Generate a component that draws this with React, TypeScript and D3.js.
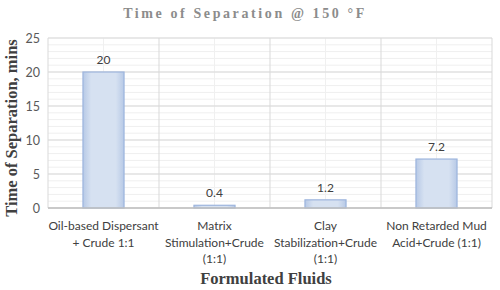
import React from "react";
import * as d3 from "d3";

const categories = [
  ["Oil-based Dispersant", "+ Crude 1:1"],
  ["Matrix", "Stimulation+Crude", "(1:1)"],
  ["Clay", "Stabilization+Crude", "(1:1)"],
  ["Non Retarded Mud", "Acid+Crude (1:1)"],
];
const values = [20, 0.4, 1.2, 7.2];
const valueLabels = ["20", "0.4", "1.2", "7.2"];
const yTicks = [0, 5, 10, 15, 20, 25];

export default function App() {
  const W = 500, H = 290;
  const m = { left: 48, right: 492, top: 38, bottom: 208 };
  const x = d3.scaleBand<number>().domain(d3.range(categories.length)).range([m.left, m.right]).paddingInner(0).paddingOuter(0);
  const y = d3.scaleLinear().domain([0, 25]).range([m.bottom, m.top]);
  const barW = x.bandwidth() * 0.37;
  const minor = d3.range(0, 25.01, 1);
  const sans = "Lato, 'Open Sans', sans-serif";
  const serif = "'Liberation Serif', 'DejaVu Serif', serif";
  return (
    <svg width={W} height={H} style={{ position: "absolute", left: 0, top: 0 }}>
      <defs>
        <linearGradient id="gx" x1="0" x2="1" y1="0" y2="0">
          <stop offset="0" stopColor="#b7c9e6" />
          <stop offset="0.2" stopColor="#d6e1f1" />
          <stop offset="0.8" stopColor="#d6e1f1" />
          <stop offset="1" stopColor="#b7c9e6" />
        </linearGradient>
      </defs>
      <rect width={W} height={H} fill="#fff" />
      {minor.map((t) => (
        <line key={"mn" + t} x1={m.left} x2={m.right} y1={y(t)} y2={y(t)} stroke="#efefef" strokeWidth={1} />
      ))}
      {categories.map((_, i) => (
        <line key={"vc" + i} x1={x(i)! + x.bandwidth() / 2} x2={x(i)! + x.bandwidth() / 2} y1={m.top} y2={m.bottom} stroke="#f0f0f0" />
      ))}
      {yTicks.map((t) => (
        <line key={"mj" + t} x1={m.left} x2={m.right} y1={y(t)} y2={y(t)} stroke="#d9d9d9" />
      ))}
      {d3.range(categories.length + 1).map((i) => {
        const xx = m.left + i * x.bandwidth();
        return <line key={"vg" + i} x1={xx} x2={xx} y1={m.top} y2={m.bottom} stroke="#d9d9d9" />;
      })}
      {values.map((v, i) => {
        const cx = x(i)! + x.bandwidth() / 2;
        return (
          <g key={"b" + i}>
            <rect x={cx - barW / 2} y={y(v)} width={barW} height={y(0) - y(v)} fill="url(#gx)" stroke="#9db5dd" strokeWidth={1.2} />
            <text x={cx} y={y(v) - 8} textAnchor="middle" fontFamily={sans} fontSize={12} fill="#404040">{valueLabels[i]}</text>
          </g>
        );
      })}
      <line x1={m.left} x2={m.right} y1={m.bottom} y2={m.bottom} stroke="#bfbfbf" strokeWidth={1.3} />
      {yTicks.map((t) => (
        <text key={"yt" + t} x={40} y={y(t) + 4.5} textAnchor="end" fontFamily={sans} fontSize={12.5} fill="#595959">{t}</text>
      ))}
      {categories.map((lines, i) => (
        <text key={"xl" + i} x={x(i)! + x.bandwidth() / 2} textAnchor="middle" fontFamily={sans} fontSize={12} fill="#404040">
          {lines.map((l, j) => (
            <tspan key={j} x={x(i)! + x.bandwidth() / 2} y={230 + j * 16.5}>{l}</tspan>
          ))}
        </text>
      ))}
      <text x={245} y={18} textAnchor="middle" fontFamily={serif} fontWeight="bold" fontSize={14} letterSpacing={2.6} fill="#8c8c8c">Time of Separation @ 150 °F</text>
      <text transform={`translate(17,128) rotate(-90)`} textAnchor="middle" fontFamily={serif} fontWeight="bold" fontSize={16.5} fill="#404040">Time of Separation, mins</text>
      <text x={266} y={284} textAnchor="middle" fontFamily={serif} fontWeight="bold" fontSize={16.5} fill="#404040">Formulated Fluids</text>
    </svg>
  );
}
